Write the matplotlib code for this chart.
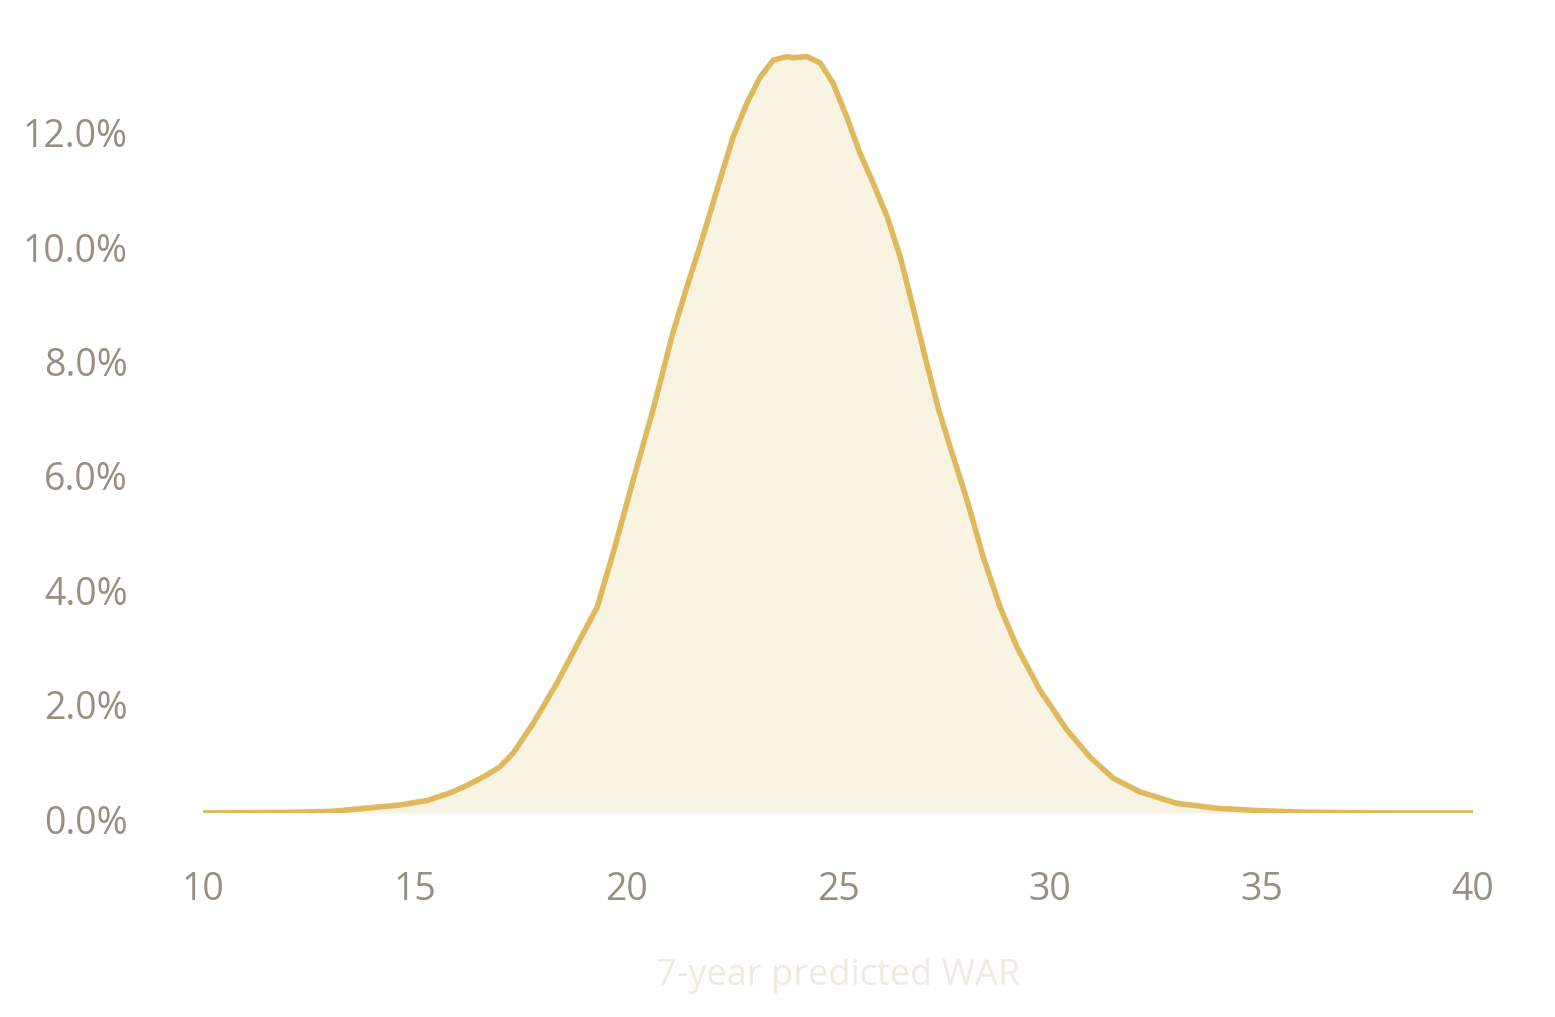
import matplotlib
matplotlib.use("Agg")
import matplotlib.pyplot as plt
from matplotlib.transforms import ScaledTranslation
from matplotlib.ticker import FuncFormatter


# density of 7-year predicted WAR (percent)
war = [10, 12, 13.07, 14.65, 15.3, 15.83, 16.2, 16.62, 17.0, 17.33, 17.8,
       18.36, 18.9, 19.31, 19.69, 20.16, 20.63, 21.1, 21.43, 21.81, 22.21,
       22.52, 22.85, 23.16, 23.47, 23.8, 23.94, 24.27, 24.58, 24.88, 25.21,
       25.52, 25.83, 26.16, 26.47, 26.77, 27.1, 27.38, 27.65, 28.05, 28.43,
       28.83, 29.23, 29.77, 30.41, 30.95, 31.5, 32.13, 33, 34, 35, 36, 37,
       38, 40]
density = [0.0, 0.01, 0.03, 0.14, 0.22, 0.35, 0.47, 0.63, 0.8, 1.05, 1.57,
           2.27, 3.03, 3.6, 4.55, 5.82, 7.05, 8.4, 9.2, 10.08, 11.07,
           11.82, 12.42, 12.87, 13.17, 13.23, 13.21, 13.23, 13.12, 12.77, 12.17,
           11.54, 11.02, 10.43, 9.73, 8.85, 7.85, 7.05, 6.4, 5.47, 4.48,
           3.6, 2.9, 2.15, 1.45, 0.98, 0.61, 0.37, 0.17, 0.08, 0.04, 0.015, 0.005,
           0.0, 0.0]

x_ticks = [10, 15, 20, 25, 30, 35, 40]
y_ticks = [0, 2, 4, 6, 8, 10, 12]
x_label = "7-year predicted WAR"

LINE = "#dfb95c"
FILL = "#f9f3e3"
TICK = "#978f82"
LABEL = "#efebe3"

plt.rcParams["font.family"] = ["Open Sans", "DejaVu Sans"]

fig = plt.figure(figsize=(15.55, 10.17), dpi=100)
W, H = 1555, 1017
# axes box in pixels: x 10 -> 203, x 40 -> 1473; y 0 -> 813, 1% = 57.17 px
ax = fig.add_axes([203 / W, (H - 813) / H, 1270 / W, 14 * 57.17 / H])

ax.fill_between(war, density, 0, color=FILL, lw=0)
ax.plot(war, density, color=LINE, lw=4.0, solid_capstyle="butt", solid_joinstyle="round")

ax.set_xlim(10, 40)
ax.set_ylim(0, 14)
ax.set_xticks(x_ticks)
ax.set_yticks(y_ticks)
ax.yaxis.set_major_formatter(FuncFormatter(lambda v, _: f"{v:.1f}%"))

for s in ax.spines.values():
    s.set_visible(False)
ax.tick_params(axis="both", length=0, labelsize=27, labelcolor=TICK)
ax.tick_params(axis="x", pad=42)
ax.tick_params(axis="y", pad=54)

# y labels sit a few pixels below their value line in the reference
shift = ScaledTranslation(0, -0.06, fig.dpi_scale_trans)
for lab in ax.get_yticklabels():
    lab.set_transform(lab.get_transform() + shift)

fig.text(838 / W, 1 - 976 / H, x_label, ha="center", va="center",
         fontsize=26, color=LABEL)

fig.savefig("out.png", dpi=100, facecolor="white")
